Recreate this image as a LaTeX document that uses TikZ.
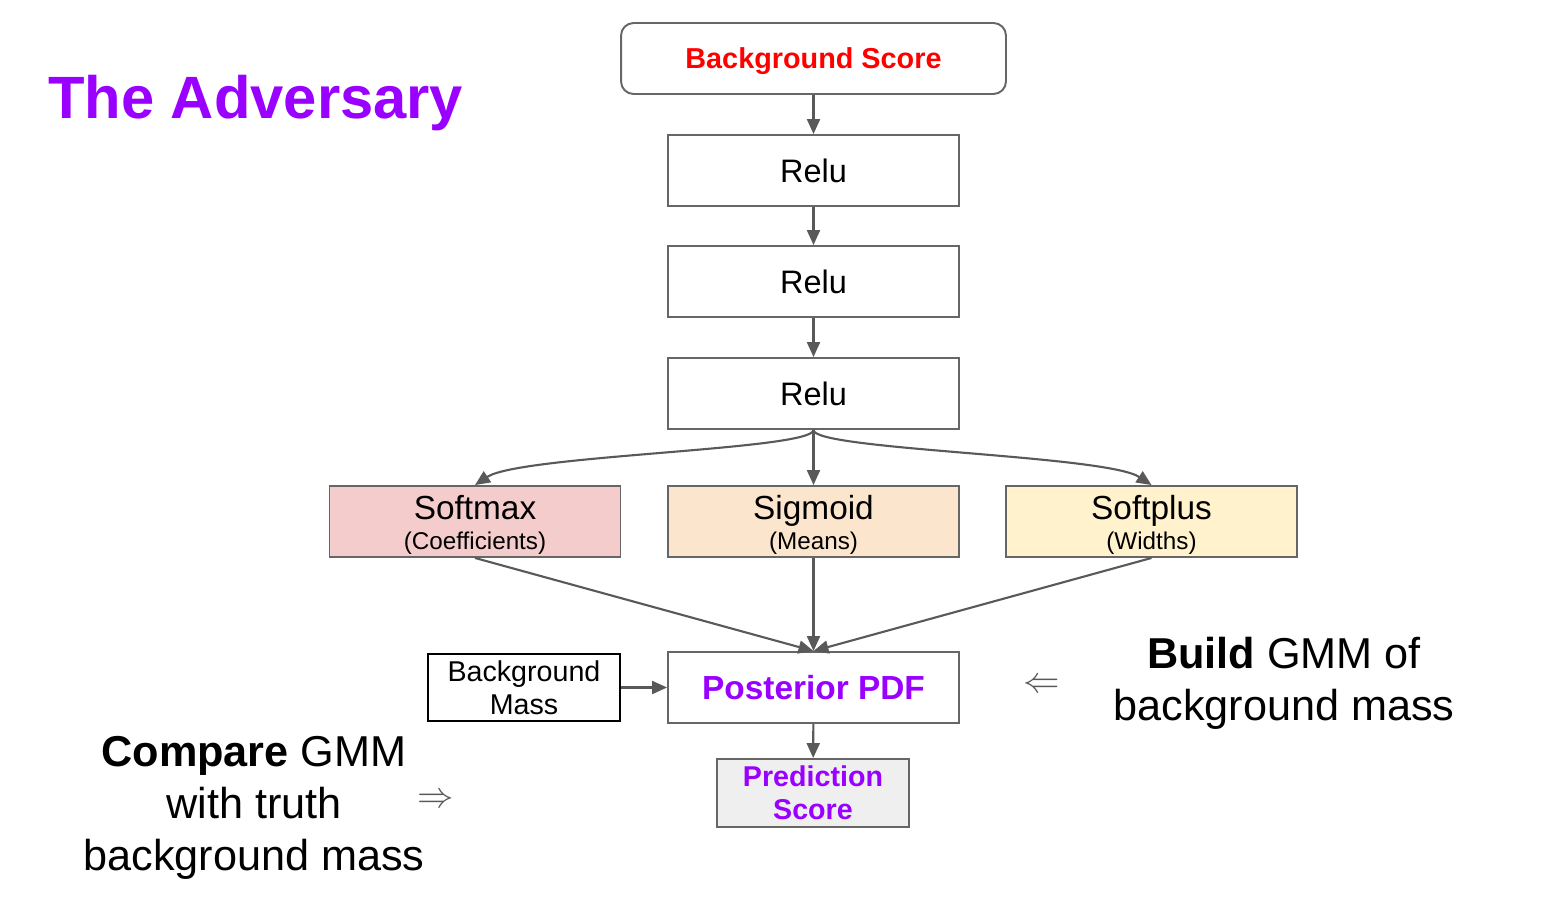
\documentclass[tikz,border=0pt]{standalone}
\usepackage{fontspec}
\setmainfont{Liberation Sans}
\usetikzlibrary{arrows.meta}
\definecolor{linegray}{HTML}{595959}
\definecolor{boxgray}{HTML}{666666}
\definecolor{advpurple}{HTML}{9900FF}
\definecolor{softred}{HTML}{F4CCCC}
\definecolor{softorange}{HTML}{FCE5CD}
\definecolor{softyellow}{HTML}{FFF2CC}
\definecolor{predgray}{HTML}{EFEFEF}

\begin{document}
\begin{tikzpicture}[x=0.02cm,y=-0.02cm,
    layer/.style={draw=boxgray,line width=1.1pt,inner sep=0pt,minimum width=5.82cm,minimum height=1.42cm,align=center},
    small/.style={draw=boxgray,line width=1.1pt,inner sep=0pt,minimum width=3.84cm,minimum height=1.36cm,align=center},
    flow/.style={draw=linegray,line width=1.2pt,-{Triangle[length=0.3cm,width=0.26cm]}},
    big/.style={font=\fontsize{18.5}{20}\selectfont},
    act/.style={layer,font=\fontsize{19}{17}\selectfont},
    note/.style={font=\fontsize{24.6}{29.6}\selectfont,align=center}]
\useasboundingbox (0,0) rectangle (1558,922);
\node[anchor=west,text=advpurple,font=\fontsize{34}{40}\selectfont\bfseries] (title) at (42,103) {The Adversary};
\node[layer,minimum width=7.7cm,rounded corners=0.25cm,text=red,font=\fontsize{16.4}{18}\selectfont\bfseries,text depth=0.1em] (bgscore) at (813.5,58.5) {Background Score};
\node[layer,big] (relua) at (813.5,170.5) {Relu};
\node[layer,big] (relub) at (813.5,281.5) {Relu};
\node[layer,big] (reluc) at (813.5,393.5) {Relu};
\node[act,fill=softred] (softmax) at (475,521.5) {\rule{0pt}{18pt}Softmax\\{\fontsize{13.8}{17}\selectfont (Coefficients)}};
\node[act,fill=softorange] (sigmoid) at (813.5,521.5) {\rule{0pt}{18pt}Sigmoid\\{\fontsize{13.8}{17}\selectfont (Means)}};
\node[act,fill=softyellow] (softplus) at (1151.5,521.5) {\rule{0pt}{18pt}Softplus\\{\fontsize{13.8}{17}\selectfont (Widths)}};
\node[small,draw=black,minimum height=1.34cm,font=\fontsize{16.3}{19}\selectfont] (bgmass) at (524,687.5) {Background\\Mass};
\node[layer,text=advpurple,font=\fontsize{19}{20}\selectfont\bfseries] (posterior) at (813.5,687.5) {Posterior PDF};
\node[small,fill=predgray,text=advpurple,font=\fontsize{16.3}{19}\selectfont\bfseries] (predscore) at (813,793) {Prediction\\Score};

\draw[flow] (bgscore) -- (relua);
\draw[flow] (relua) -- (relub);
\draw[flow] (relub) -- (reluc);
\draw[flow] (reluc.south) .. controls (813,450) and (520,455) .. (softmax.north);
\draw[flow] (reluc.south) -- (sigmoid.north);
\draw[flow] (reluc.south) .. controls (813,450) and (1106,455) .. (softplus.north);
\draw[flow] (softmax.south) -- (posterior.north);
\draw[flow] (sigmoid.south) -- (posterior.north);
\draw[flow] (softplus.south) -- (posterior.north);
\draw[flow] (bgmass) -- (posterior);
\draw[flow] (posterior) -- (predscore);

\node[note] (build) at (1284,683) {\textbf{Build} GMM of\\background mass};
\node[note] (compare) at (254,808) {\textbf{Compare} GMM\\with truth\\background mass};
\node[text=linegray,font=\fontsize{20}{24}\selectfont] (leftarr) at (1042,686) {$\Leftarrow$};
\node[text=linegray,font=\fontsize{20}{24}\selectfont] (rightarr) at (436,801) {$\Rightarrow$};
\end{tikzpicture}
\end{document}
